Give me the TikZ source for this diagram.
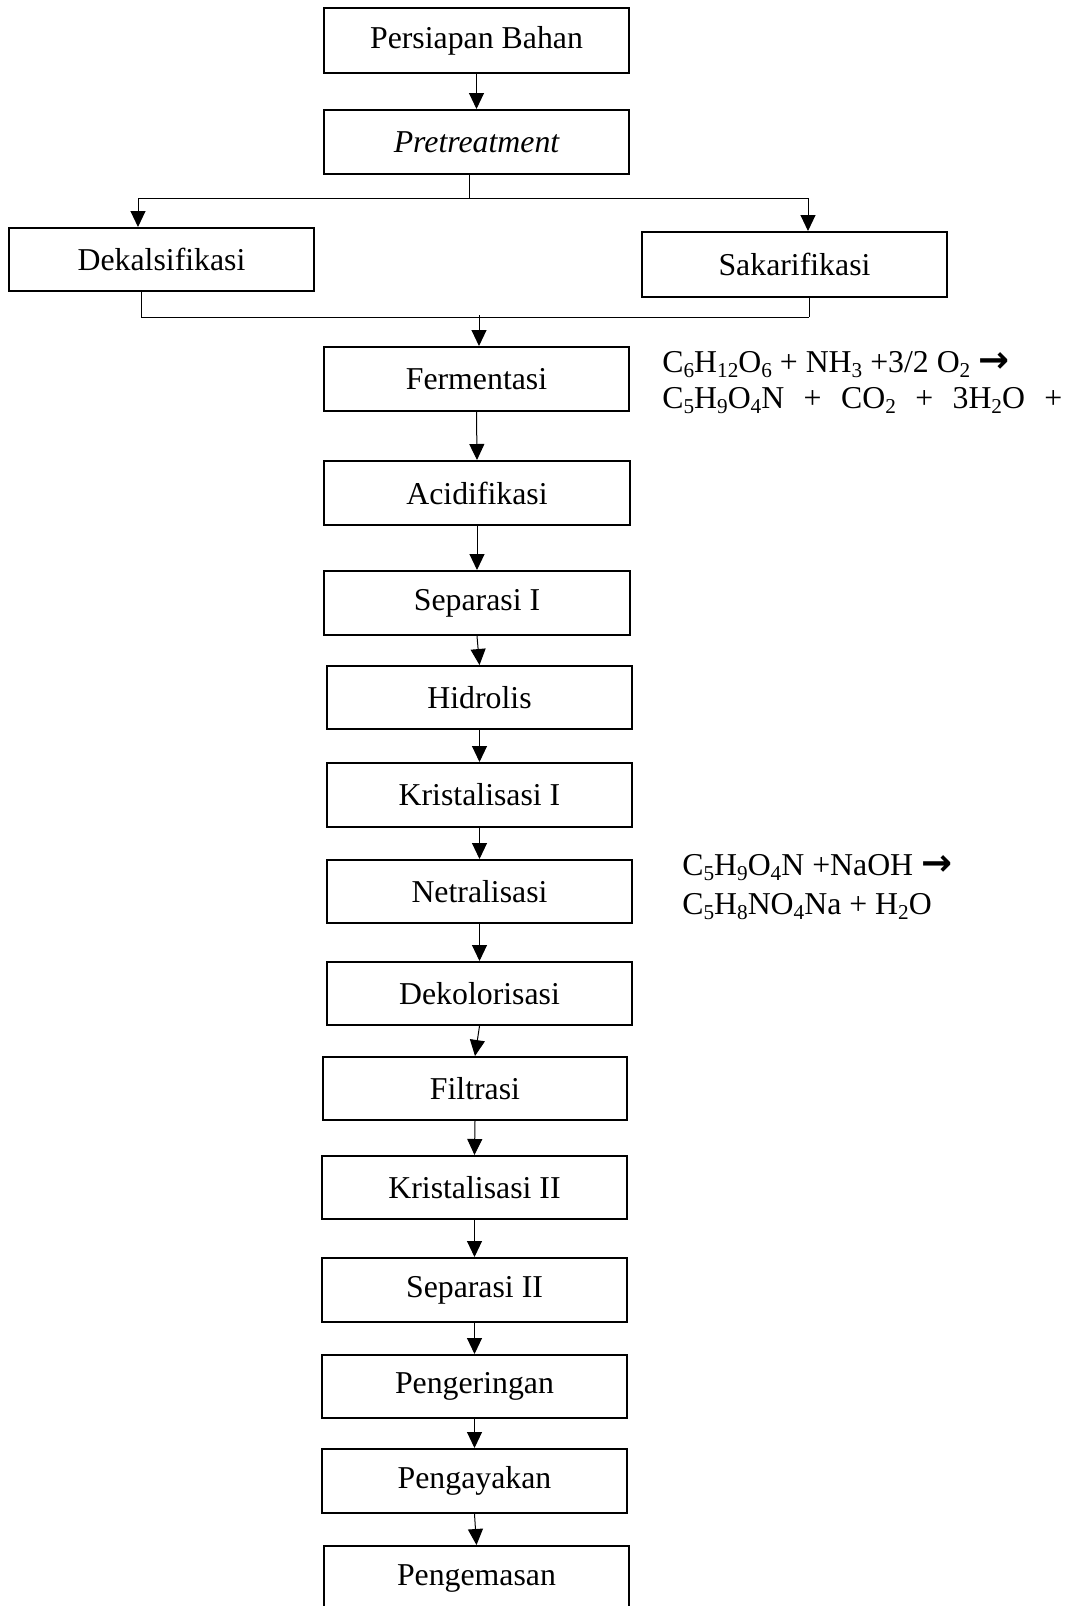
\documentclass[tikz,border=0pt]{standalone}
\usepackage{fontspec}
\setmainfont{Liberation Serif}
\newfontfamily\arrowfont{DejaVu Sans}
\usetikzlibrary{arrows.meta}
\newcommand\sbs[1]{\raisebox{-0.17em}{\fontsize{10.6}{10}\selectfont #1}}
\newcommand\rarr{{\fontsize{18.5}{19}\arrowfont\bfseries →}}
\tikzset{
  box/.style={draw, line width=1pt, inner sep=0pt, font=\fontsize{15.9}{19}\selectfont},
  lbl/.style={inner sep=0pt, font=\fontsize{15.9}{19}\selectfont},
  conn/.style={line width=0.5pt},
  arr/.style={line width=0.5pt, -{Triangle[width=7.5pt,length=8pt]}}
}
% place a box by its left, top, right, bottom edges (px)
\newcommand\bx[6]{%
  \node[box, minimum width={(#3-#1)*0.5pt}, minimum height={(#4-#2)*0.5pt}]
    (#5) at ({(#1+#3)/2},{(#2+#4)/2}) {#6};}
\begin{document}
\begin{tikzpicture}[x=0.5pt,y=-0.5pt]
\useasboundingbox (0,0) rectangle (1080,1606);
\clip (0,0) rectangle (1080,1606);
\bx{324}{8}{629}{73}{p1}{Persiapan Bahan}
\bx{324}{110}{629}{174}{p2}{\itshape Pretreatment}
\bx{9}{228}{314}{291}{dek}{Dekalsifikasi}
\bx{642}{232}{947}{297}{sak}{Sakarifikasi}
\bx{324}{347}{629}{411}{fer}{Fermentasi}
\bx{324}{461}{630}{525}{aci}{Acidifikasi}
\bx{324}{571}{630}{635}{sepa}{Separasi I}
\bx{327}{666}{632}{729}{hid}{Hidrolis}
\bx{327}{763}{632}{827}{kria}{Kristalisasi I}
\bx{327}{860}{632}{923}{net}{Netralisasi}
\bx{327}{962}{632}{1025}{dekol}{Dekolorisasi}
\bx{323}{1057}{627}{1120}{fil}{Filtrasi}
\bx{322}{1156}{627}{1219}{krib}{Kristalisasi II}
\bx{322}{1258}{627}{1322}{sepb}{Separasi II}
\bx{322}{1355}{627}{1418}{pger}{Pengeringan}
\bx{322}{1449}{627}{1513}{pgay}{Pengayakan}
\bx{324}{1546}{629}{1612}{pgem}{Pengemasan}

% equations
\node[lbl, anchor=base west] (eqa1) at (662,372)
  {C\sbs{6}H\sbs{12}O\sbs{6} + NH\sbs{3} +3/2 O\sbs{2} \rarr};
\node[lbl, anchor=base west] (eqa2) at (662,408)
  {\hbox to 200pt{C\sbs{5}H\sbs{9}O\sbs{4}N\hfill+\hfill CO\sbs{2}\hfill+\hfill 3H\sbs{2}O\hfill+}};
\node[lbl, anchor=base west] (eqb1) at (682,875)
  {C\sbs{5}H\sbs{9}O\sbs{4}N +NaOH \rarr};
\node[lbl, anchor=base west] (eqb2) at (682,914)
  {C\sbs{5}H\sbs{8}NO\sbs{4}Na + H\sbs{2}O};

% split after pretreatment
\coordinate (bl) at (138,198);
\coordinate (br) at (808,198);
\coordinate (bm) at (469,198);
\draw[conn] (p2.south -| bm) -- (bm);
\draw[conn] (bl) -- (br);
\draw[arr] (bl) -- (bl |- dek.north);
\draw[arr] (br) -- (br |- sak.north);

% merge before fermentasi
\coordinate (ml) at (141,317);
\coordinate (mr) at (809,317);
\coordinate (mm) at (479,315);
\draw[conn] (dek.south -| ml) -- (ml) -- (mr);
\draw[conn] (sak.south -| mr) -- (mr);
\draw[arr] (mm) -- (fer.north -| mm);

% main chain
\draw[arr] (p1.south) -- (p2.north);
\draw[arr] (fer.south) -- (aci.north);
\draw[arr] (aci.south) -- (sepa.north);
\draw[arr] (sepa.south) -- (hid.north);
\draw[arr] (hid.south) -- (kria.north);
\draw[arr] (kria.south) -- (net.north);
\draw[arr] (net.south) -- (dekol.north);
\draw[arr] (dekol.south) -- (fil.north);
\draw[arr] (fil.south) -- (krib.north);
\draw[arr] (krib.south) -- (sepb.north);
\draw[arr] (sepb.south) -- (pger.north);
\draw[arr] (pger.south) -- (pgay.north);
\draw[arr] (pgay.south) -- (pgem.north);
\end{tikzpicture}
\end{document}
